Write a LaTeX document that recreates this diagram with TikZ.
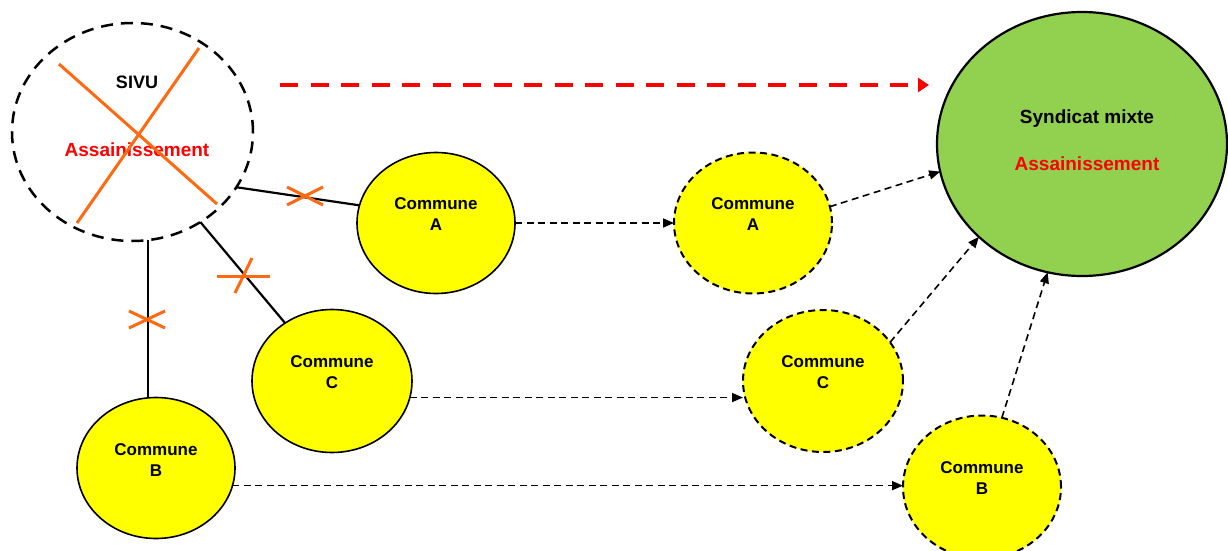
\documentclass[tikz,border=0pt]{standalone}
\usepackage{fontspec}
\setmainfont{Liberation Sans}
\usetikzlibrary{shapes.geometric,arrows.meta}
\definecolor{communeyellow}{HTML}{FFFF00}
\definecolor{mixtegreen}{HTML}{92D050}
\definecolor{strikeorange}{HTML}{FF6A10}
\definecolor{labelred}{HTML}{FF0000}

\begin{document}
\begin{tikzpicture}[x=1pt,y=-1pt,
  blob/.style={ellipse, inner sep=0pt, outer sep=0pt},
  oldcommune/.style={blob, draw, fill=communeyellow, line width=1.6pt,
    minimum width=158pt, minimum height=141pt},
  newcommune/.style={blob, draw, fill=communeyellow, line width=2pt,
    dash pattern=on 7pt off 4.5pt, minimum width=158pt, minimum height=141pt},
  communetext/.style={align=center, inner sep=0pt,
    font=\fontsize{17}{21}\selectfont\bfseries},
  bigtext/.style={inner sep=0pt, font=\fontsize{19}{23}\selectfont\bfseries},
  link/.style={line width=2.2pt, black},
  strike/.style={line width=3pt, strikeorange},
  transfer/.style={line width=1.6pt, black, dash pattern=on 7pt off 4.5pt,
    -{Triangle[length=11pt,width=9pt]}},
  dissolve/.style={line width=4.5pt, labelred, dash pattern=on 18pt off 12.5pt,
    -{Triangle[length=11pt,width=14pt]}}
]
\useasboundingbox (0,0) rectangle (1228,551);

% ---- the dissolved SIVU ----
\node[blob, draw, line width=2.5pt, dash pattern=on 12pt off 8pt,
  minimum width=241pt, minimum height=218pt] (sivu) at (132.5,132) {};
\node[bigtext, font=\fontsize{18}{22}\selectfont\bfseries] (sivu-t) at (137,82) {SIVU};
\node[bigtext, text=labelred] (sivu-c) at (137,150) {Assainissement};
\draw[strike] (59,64) -- (217,204);
\draw[strike] (199,48) -- (77,223);

% ---- the new syndicat mixte ----
\node[blob, draw, fill=mixtegreen, line width=2.2pt,
  minimum width=290pt, minimum height=264pt] (mixte) at (1082,144) {};
\node[bigtext] (mixte-t) at (1087,119) {Syndicat mixte};
\node[bigtext, text=labelred] (mixte-c) at (1087,164) {Assainissement};

% ---- member communes, before ----
\node[oldcommune] (ca) at (436,223) {};
\node[communetext] (ca-t) at (436,214) {Commune\\A};
\node[oldcommune, minimum width=160pt, minimum height=143pt] (cc) at (332,381) {};
\node[communetext] (cc-t) at (332,372) {Commune\\C};
\node[oldcommune] (cb) at (156,468) {};
\node[communetext] (cb-t) at (156,460) {Commune\\B};

% ---- member communes, after ----
\node[newcommune] (na) at (753,223) {};
\node[communetext] (na-t) at (753,214) {Commune\\A};
\node[newcommune, minimum width=160pt, minimum height=142pt] (nc) at (823,381) {};
\node[communetext] (nc-t) at (823,372) {Commune\\C};
\node[newcommune, minimum height=143pt] (nb) at (982,487) {};
\node[communetext] (nb-t) at (982,478) {Commune\\B};

% ---- former links to the SIVU, struck out ----
\draw[link] (sivu.-28.2) -- (ca.167);
\draw[link] (sivu.-53.7) -- (cc.129.8);
\draw[link] (sivu.-82.5) -- (sivu.-82.5 |- cb.north);

\coordinate (xa) at (305,196);
\coordinate (xc) at (243,276);
\coordinate (xb) at (147,320);
\draw[strike] ([shift={(-18,-9)}]xa) -- ([shift={(18,9)}]xa);
\draw[strike] ([shift={(-18,9)}]xa) -- ([shift={(18,-9)}]xa);
\draw[strike] ([shift={(-26,0)}]xc) -- ([shift={(27,0)}]xc);
\draw[strike] ([shift={(9,-18)}]xc) -- ([shift={(-8,17)}]xc);
\draw[strike] ([shift={(-18,-9)}]xb) -- ([shift={(18,8)}]xb);
\draw[strike] ([shift={(-18,8)}]xb) -- ([shift={(18,-9)}]xb);

% ---- transfer of the competence ----
\coordinate (red-from) at (280,85);
\coordinate (red-to) at (929,85);
\draw[dissolve] (red-from) -- (red-to);

\draw[transfer] (ca.east) -- (na.west);
\draw[transfer] (cc.-12.1) -- (cc.-12.1 -| nc.west);
\draw[transfer] (cb.-13.5) -- (cb.-13.5 -| nb.west);

\draw[transfer] (na.12) -- (mixte.-169.8);
\draw[transfer] (nc.30.7) -- (mixte.-138.9);
\draw[transfer] (nb.74.5) -- (mixte.-105.7);
\end{tikzpicture}
\end{document}
